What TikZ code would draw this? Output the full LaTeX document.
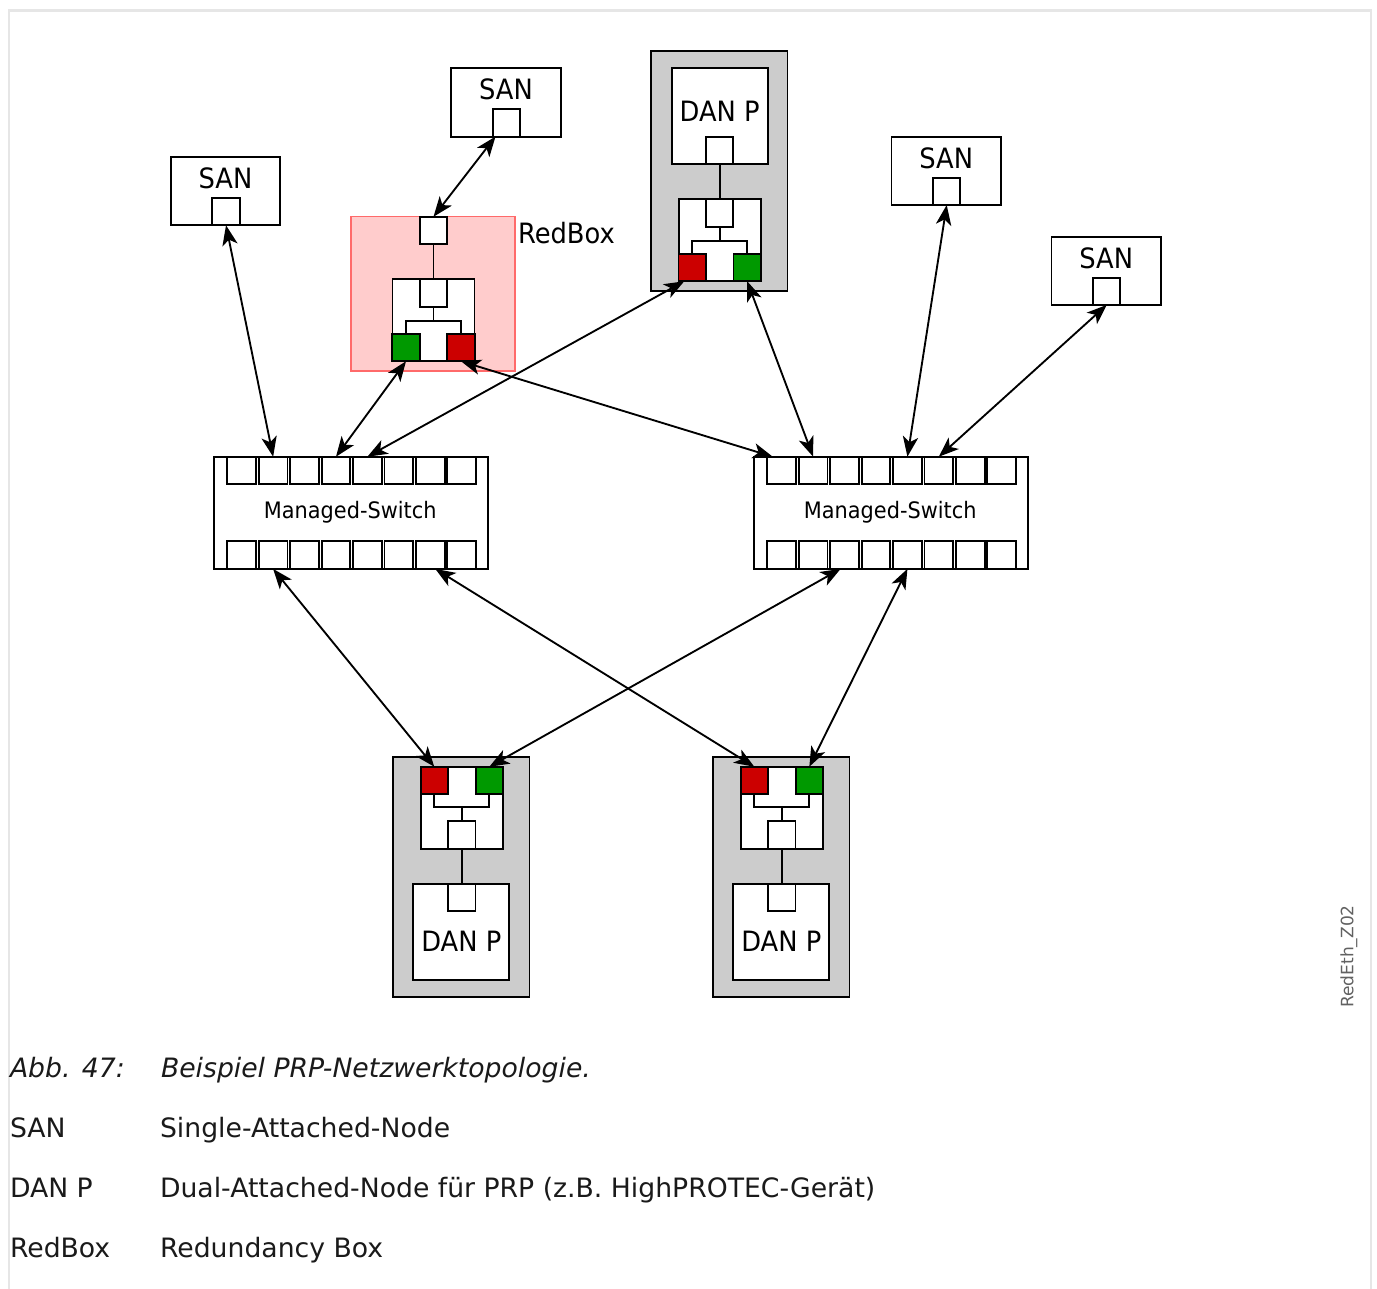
\documentclass[tikz,border=0pt]{standalone}
\usepackage{fontspec}
\setmainfont{DejaVu Sans}
\newfontfamily\dfont[FakeStretch=0.92]{DejaVu Sans}
\usetikzlibrary{arrows.meta,calc}

\definecolor{prpred}{HTML}{CC0000}
\definecolor{prpgreen}{HTML}{009900}
\definecolor{boxgray}{HTML}{CCCCCC}
\definecolor{rbfill}{HTML}{FFCCCC}
\definecolor{rbdraw}{HTML}{FF6A6A}
\definecolor{framegray}{HTML}{E6E6E6}
\definecolor{captxt}{HTML}{1A1A1A}

\tikzset{
  every node/.style={inner sep=0pt, outer sep=0pt},
  ln/.style={line width=1.4pt},
  port/.style={draw, line width=1.4pt, fill=white, minimum width=20.5pt, minimum height=20.5pt},
  swport/.style={draw, line width=1.4pt, fill=white, minimum width=21.5pt, minimum height=20.7pt},
  sanbox/.style={draw, line width=1.4pt, fill=white, minimum width=82.1pt, minimum height=51.2pt},
  danbox/.style={draw, line width=1.4pt, fill=white, minimum width=72pt, minimum height=72pt},
  ifbox/.style={draw, line width=1.4pt, fill=white, minimum width=61.5pt, minimum height=61.5pt},
  graybox/.style={draw, line width=1.4pt, fill=boxgray, minimum width=102.3pt, minimum height=180pt},
  swbox/.style={draw, line width=1.4pt, fill=white, minimum width=205.7pt, minimum height=84.2pt},
  biglbl/.style={font=\dfont\fontsize{21}{25}\selectfont, anchor=base},
  swlbl/.style={font=\dfont\fontsize{17}{20}\selectfont, anchor=base},
  caplbl/.style={font=\fontsize{20}{24}\selectfont, text=captxt, anchor=base west},
  biarrow/.style={line width=1.4pt, arrows={Stealth[length=15pt,width=11.5pt,inset=4pt]-Stealth[length=15pt,width=11.5pt,inset=4pt]}},
}

% interface unit with colored ports at the bottom
\newcommand\prpdown[5]{%
 \begin{scope}[shift={(#2,#3)}]
  \node[ifbox] (#1box) at (0,41) {};
  \node[port] (#1in) at (0,13.7) {};
  \node[port, fill=#4] (#1l) at (-27.5,68.3) {};
  \node[port, fill=#5] (#1r) at (27.5,68.3) {};
  \draw[ln] (#1in.south) -- (0,41.5) coordinate (#1j);
  \draw[ln] (#1l.north) |- (#1j) -| (#1r.north);
 \end{scope}}

% interface unit with colored ports at the top
\newcommand\prpup[5]{%
 \begin{scope}[shift={(#2,#3)}]
  \node[ifbox] (#1box) at (0,41) {};
  \node[port, fill=#4] (#1l) at (-27.5,13.7) {};
  \node[port, fill=#5] (#1r) at (27.5,13.7) {};
  \node[port] (#1in) at (0,68.3) {};
  \draw[ln] (#1in.north) -- (0,40.6) coordinate (#1j);
  \draw[ln] (#1l.south) |- (#1j) -| (#1r.south);
 \end{scope}}

% SAN: name, cx, top
\newcommand\prpsan[3]{%
 \begin{scope}[shift={(#2,#3)}]
  \node[sanbox] (#1) at (0,34.15) {};
  \node[port] (#1p) at (0.5,54.6) {};
  \node[biglbl] (#1t) at (0,31.5) {SAN};
 \end{scope}}

% Switch: name, cx, cy
\newcommand\prpswitch[3]{%
 \begin{scope}[shift={(#2,#3)}]
  \node[swbox] (#1) at (0,0) {};
  \node[swlbl] (#1t) at (-1,5.4) {Managed-Switch};
  \foreach \i in {1,...,8} {
    \node[swport] (#1t\i) at ({-109.5+31.43*(\i-1)},-42.4) {};
    \node[swport] (#1b\i) at ({-109.5+31.43*(\i-1)},42.2) {};
  }
 \end{scope}}

% bottom DAN P: name, cx, top of gray box
\newcommand\prpdanbottom[3]{%
 \begin{scope}[shift={(#2,#3)}]
  \node[graybox] (#1g) at (0,120) {};
  \prpup{#1i}{0.5}{9.4}{prpred}{prpgreen}
  \node[danbox] (#1) at (0,174.4) {};
  \node[port] (#1p) at (0.5,140.2) {};
  \node[biglbl] (#1t) at (0,194.4) {DAN P};
  \draw[ln] (#1iin.south) -- (#1p.north);
 \end{scope}}

\begin{document}
\begin{tikzpicture}[x=0.75pt,y=-0.75pt]
\useasboundingbox (0,0) rectangle (1377,1288);
\fill[white] (0,0) rectangle (1377,1288);
% frame
\draw[framegray, line width=1.6pt] (9,1290) -- (9,10.5) -- (1371,10.5) -- (1371,1290);

% SANs
\prpsan{sanL}{225.5}{157}
\prpsan{sanM}{506}{68.3}
\prpsan{sanRa}{946.2}{136.7}
\prpsan{sanRb}{1106.2}{236.7}

% RedBox
\node[draw=rbdraw, fill=rbfill, line width=1.1pt, minimum width=123pt, minimum height=115.7pt] (rb) at (433,293.8) {};
\node[port] (rbtop) at (433.5,230.4) {};
\prpdown{rbi}{433.5}{279.3}{prpgreen}{prpred}
\draw[ln] (rbtop.south) -- (rbiin.north);
\node[biglbl, anchor=base west] (rblbl) at (518,243) {RedBox};

% top DAN P
\node[graybox] (dtg) at (719.35,170.9) {};
\node[danbox] (dt) at (719.7,116.3) {};
\node[port] (dtp) at (719.7,150.5) {};
\node[biglbl] (dtt) at (719.7,121.7) {DAN P};
\prpdown{dti}{719.7}{199.3}{prpred}{prpgreen}
\draw[ln] (dtp.south) -- (dtiin.north);

% switches
\prpswitch{swa}{351.2}{512.9}
\prpswitch{swb}{891.2}{512.9}

% bottom DAN Ps
\prpdanbottom{db1}{461.3}{757.3}
\prpdanbottom{db2}{781.3}{757.3}

% connectors
\draw[biarrow] (sanLp.south) -- (swat2.north);
\draw[biarrow] ($(sanMp.south)+(-11,0)$) -- (rbtop.north);
\draw[biarrow] (rbil.south) -- (swat4.north);
\draw[biarrow] ($(dtil.south)+(-8,0)$) -- (swat5.north);
\draw[biarrow] (rbir.south) -- ($(swbt1.north)+(-9,0)$);
\draw[biarrow] (dtir.south) -- (swbt2.north);
\draw[biarrow] (sanRap.south) -- (swbt5.north);
\draw[biarrow] (sanRbp.south) -- (swbt6.north);
\draw[biarrow] (swab2.south) -- (db1il.north);
\draw[biarrow] ($(swab7.south)+(5,0)$) -- (db2il.north);
\draw[biarrow] ($(swbb3.south)+(-4,0)$) -- (db1ir.north);
\draw[biarrow] (swbb5.south) -- (db2ir.north);

% side label
\node[rotate=90, font=\fontsize{12.8}{15}\selectfont, text=black!62] (code) at (1349,956.5) {RedEth\_Z02};

% caption
\node[caplbl, font=\fontsize{20}{24}\selectfont\itshape] (c1a) at (10,1077) {Abb. 47:};
\node[caplbl, font=\fontsize{20}{24}\selectfont\itshape] (c1b) at (161,1077) {Beispiel PRP-Netzwerktopologie.};
\node[caplbl] (c2a) at (10,1137) {SAN};
\node[caplbl] (c2b) at (160,1137) {Single-Attached-Node};
\node[caplbl] (c3a) at (10,1197) {DAN P};
\node[caplbl] (c3b) at (160,1197) {Dual-Attached-Node für PRP (z.B. HighPROTEC-Gerät)};
\node[caplbl] (c4a) at (10,1257) {RedBox};
\node[caplbl] (c4b) at (160,1257) {Redundancy Box};
\end{tikzpicture}
\end{document}
